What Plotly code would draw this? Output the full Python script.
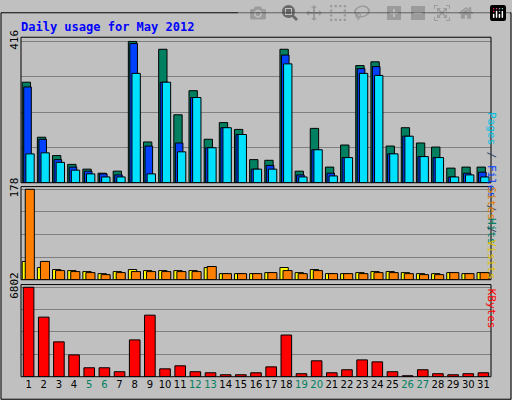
import plotly.graph_objects as go

days = list(range(1, 32))
hits = [296, 134, 80, 54, 40, 28, 34, 416, 120, 393, 200, 271, 128, 177, 157, 68, 66, 393, 34, 160, 46, 111, 345, 356, 108, 162, 117, 105, 43, 46, 46]
files = [282, 128, 68, 46, 34, 26, 23, 410, 108, 296, 117, 251, 103, 162, 142, 40, 51, 376, 23, 97, 28, 74, 336, 342, 85, 137, 77, 74, 17, 28, 31]
pages = [85, 88, 60, 37, 26, 17, 17, 322, 26, 296, 91, 251, 103, 162, 142, 40, 40, 350, 17, 97, 20, 74, 322, 316, 85, 137, 77, 74, 17, 23, 17]
visits = [36, 24, 20, 18, 16, 12, 16, 20, 18, 18, 18, 18, 24, 12, 12, 12, 14, 24, 14, 20, 12, 12, 14, 16, 16, 14, 12, 12, 14, 12, 14]
sites = [178, 36, 18, 16, 14, 10, 14, 16, 16, 16, 16, 16, 26, 12, 12, 12, 14, 18, 12, 18, 12, 12, 12, 14, 14, 12, 10, 10, 14, 12, 14]
kbytes = [6802, 4530, 2650, 1660, 680, 680, 380, 2800, 4680, 600, 830, 380, 300, 150, 150, 300, 750, 3170, 230, 1210, 300, 530, 1280, 1130, 380, 75, 530, 230, 150, 230, 300]
weekends = [5, 6, 12, 13, 19, 20, 26, 27]

def fy(px):
    return 1 - px / 400

fig = go.Figure()
def bars(vals, color, offset, width, yaxis):
    fig.add_trace(go.Bar(x=days, y=vals, marker=dict(color=color, line=dict(color='black', width=1)),
                         offset=offset, width=width, xaxis='x', yaxis=yaxis))

bars(hits, '#008060', -0.42, 0.55, 'y')
bars(files, '#0040ff', -0.32, 0.5, 'y')
bars(pages, '#00e0ff', -0.18, 0.55, 'y')
bars(visits, '#ffff00', -0.42, 0.55, 'y2')
bars(sites, '#ff8000', -0.22, 0.6, 'y2')
bars(kbytes, '#ff0000', -0.35, 0.7, 'y3')

def yax(dom, mx):
    return dict(domain=dom, range=[0, mx * 1.03], tickvals=[mx * f for f in (0.25, 0.5, 0.75, 1)],
                ticktext=['', '', '', str(mx)], tickangle=-90, showgrid=True, gridcolor='#808080',
                zeroline=False, anchor='x', tickfont=dict(family='DejaVu Sans Mono', size=11, color='black'),
                showline=False, fixedrange=True)

ticktext = [f"<span style='color:{'#008060' if d in weekends else 'black'}'>{d}</span>" for d in days]
fig.update_layout(
    width=512, height=400, margin=dict(l=0, r=0, t=0, b=0),
    paper_bgcolor='#c0c0c0', plot_bgcolor='#c0c0c0', showlegend=False, barmode='overlay',
    xaxis=dict(domain=[21 / 512, 491 / 512], range=[0.5, 31.5], tickvals=days, ticktext=ticktext,
               tickangle=0, anchor='y3', showgrid=False, tickfont=dict(family='DejaVu Sans', size=10)),
    yaxis=yax([fy(176), fy(26)], 416),
    yaxis2=yax([fy(276), fy(180)], 178),
    yaxis3=yax([fy(376), fy(281)], 6802),
)
shapes = []
for y0, y1 in [(26, 176), (180, 276), (281, 376)]:
    shapes.append(dict(type='rect', xref='paper', yref='paper', x0=21 / 512, x1=491 / 512,
                       y0=fy(y1), y1=fy(y0), line=dict(color='black', width=1)))
shapes.append(dict(type='rect', xref='paper', yref='paper', x0=0.002, x1=0.998, y0=0.002, y1=0.998,
                   line=dict(color='black', width=1)))
fig.update_layout(shapes=shapes)

mono = 'DejaVu Sans Mono'
fig.add_annotation(x=19 / 512, y=fy(15), xref='paper', yref='paper', xanchor='left', yanchor='middle',
                   text='<b>Daily usage for May 2012</b>', showarrow=False,
                   font=dict(family=mono, size=12, color='#0000ff'))
def side(text, ycen):
    fig.add_annotation(x=500 / 512, y=fy(ycen), xref='paper', yref='paper', text=text, showarrow=False,
                       textangle=90, font=dict(family=mono, size=11))
side("<span style='color:#00c0e0'>Pages</span> / <span style='color:#0040ff'>Files</span> / <span style='color:#008060'>Hits</span>", 101)
side("<span style='color:#e08000'>Sites</span> / <span style='color:#e0c000'>Visits</span>", 228)
side("<span style='color:#ff0000'>KBytes</span>", 328)

# drop the default page margin so the chart sits at the window's corner
fig.write_html("out.html", post_script="document.body.style.margin='0';")
